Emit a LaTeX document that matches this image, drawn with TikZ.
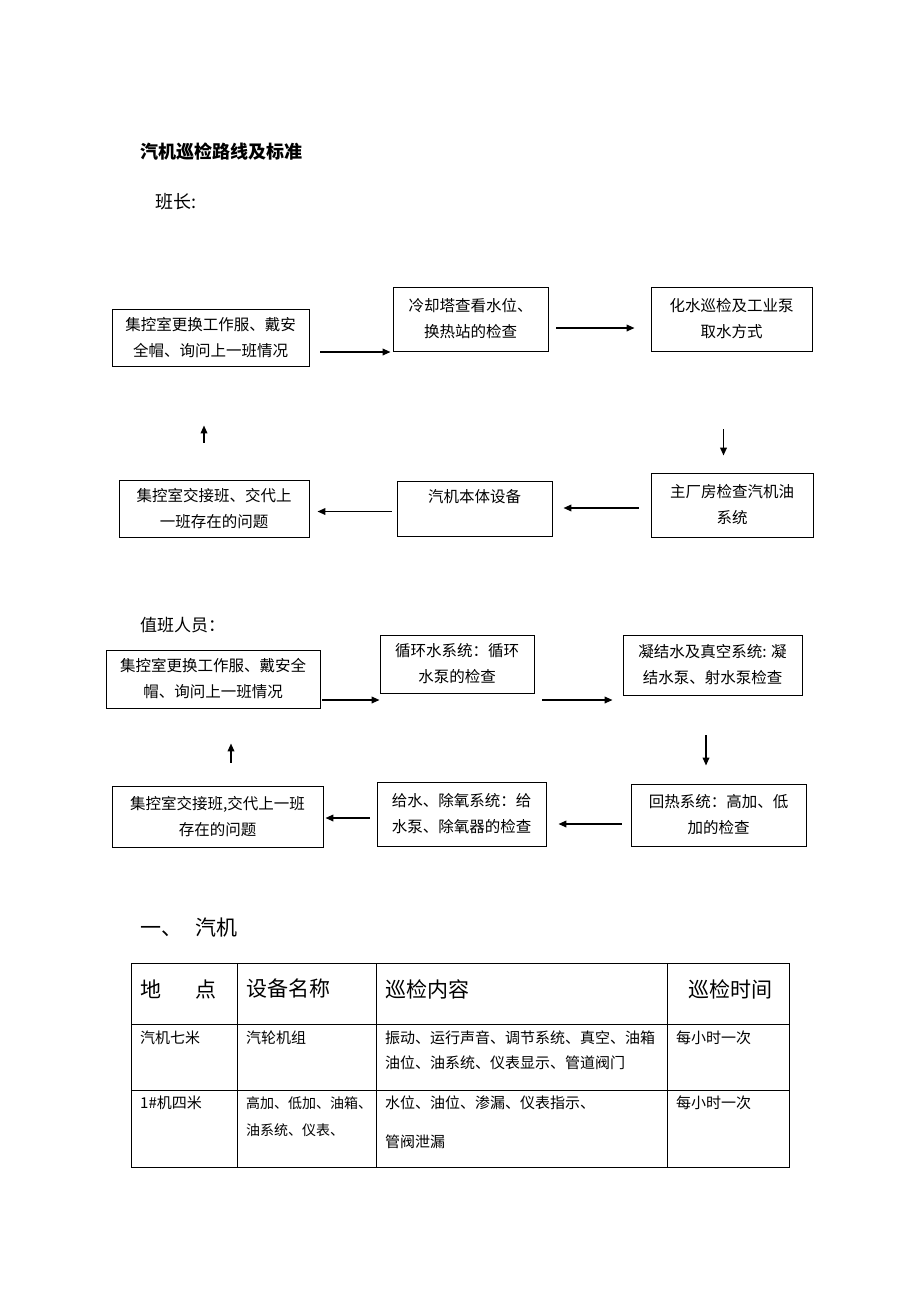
\documentclass[tikz,border=0pt]{standalone}
\usepackage{fontspec}
\setmainfont{Noto Sans CJK SC}
\usetikzlibrary{arrows.meta,calc}
\newcommand{\fs}[2]{\fontsize{#1}{#2}\selectfont}

\begin{document}
\begin{tikzpicture}[x=1pt,y=-1pt,
		box/.style={draw,line width=0.8pt,inner sep=0pt,align=center,font=\fs{15.5}{26}},
		arr/.style={line width=1.8pt,-{Triangle[length=8pt,width=6.5pt]}},
		txt/.style={inner sep=0pt,anchor=west},
		cell/.style={inner sep=0pt,anchor=north west,align=left,font=\fs{15}{25}}]
		\useasboundingbox (0,0) rectangle (920,1302);
		
		\node[txt,font=\bfseries\fs{18}{22}] (titel) at (140,152) {汽机巡检路线及标准};
		\node[txt,font=\fs{18}{22}] (banzhang) at (155,202) {班长:};
		
		% Ablauf Schichtleiter
		\node[box,minimum width=197pt,minimum height=57pt] (a1) at (210.5,337.5) {集控室更换工作服、戴安\\全帽、询问上一班情况};
		\node[box,minimum width=155pt,minimum height=64pt] (a2) at (470.5,319) {冷却塔查看水位、\\换热站的检查};
		\node[box,minimum width=161pt,minimum height=64pt] (a3) at (731.5,319) {化水巡检及工业泵\\取水方式};
		\node[box,minimum width=162pt,minimum height=64pt] (a4) at (732,505) {主厂房检查汽机油\\系统};
		\node[box,minimum width=155pt,minimum height=55pt] (a5) at (474.5,508.5) {汽机本体设备\\\mbox{}};
		\node[box,minimum width=190pt,minimum height=57pt] (a6) at (214,508.5) {集控室交接班、交代上\\一班存在的问题};
		
		\draw[arr] ($(a1.east)+(11,14.5)$) -- ($(a1.east -| a2.west)+(-2,14.5)$);
		\draw[arr] ($(a2.east)+(8,9)$) -- ($(a2.east -| a3.west)+(-16,9)$);
		\draw[arr] ($(a3.south)+(-8,78)$) -- ($(a3.south |- a4.north)+(-8,-17)$);
		\draw[arr] ($(a4.west)+(-12,3)$) -- ($(a4.west -| a5.east)+(11,3)$);
		\draw[arr] ($(a5.west)+(-5,3)$) -- ($(a5.west -| a6.east)+(8,3)$);
		\draw[arr] ($(a6.north)+(-10,-37)$) -- ($(a6.north |- a1.south)+(-10,59)$);
		
		\node[txt,font=\fs{17}{22}] (zhiban) at (140,625) {值班人员：};
		
		% Ablauf Schichtpersonal
		\node[box,minimum width=214pt,minimum height=58pt] (b1) at (213,679) {集控室更换工作服、戴安全\\帽、询问上一班情况};
		\node[box,minimum width=154pt,minimum height=58pt] (b2) at (457,664) {循环水系统：循环\\水泵的检查};
		\node[box,minimum width=179pt,minimum height=60pt] (b3) at (712.5,665) {凝结水及真空系统: 凝\\结水泵、射水泵检查};
		\node[box,minimum width=175pt,minimum height=62pt] (b4) at (718.5,815) {回热系统：高加、低\\加的检查};
		\node[box,minimum width=169pt,minimum height=64pt] (b5) at (461.5,814) {给水、除氧系统：给\\水泵、除氧器的检查};
		\node[box,minimum width=211pt,minimum height=61pt] (b6) at (217.5,816.5) {集控室交接班,交代上一班\\存在的问题};
		
		\draw[arr] ($(b1.east)+(2,21)$) -- ($(b1.east -| b2.west)+(0,21)$);
		\draw[arr] ($(b2.east)+(8,36)$) -- ($(b2.east -| b3.west)+(-10,36)$);
		\draw[arr] ($(b3.south)+(-6.5,40)$) -- ($(b3.south |- b4.north)+(-6.5,-18)$);
		\draw[arr] ($(b4.west)+(-9,9)$) -- ($(b4.west -| b5.east)+(12,9)$);
		\draw[arr] ($(b5.west)+(-7,4)$) -- ($(b5.west -| b6.east)+(2,4)$);
		\draw[arr] ($(b6.north)+(13.5,-23)$) -- ($(b6.north |- b1.south)+(13.5,35)$);
		
		\node[txt,font=\fs{21}{25}] (qiji) at (140,928) {一、\hspace{13pt}汽机};
		
		% Tabelle
		\draw[line width=0.8pt] (131,963) rectangle (789,1167);
		\foreach \x in {237,376,667} \draw[line width=0.8pt] (\x,963) -- (\x,1167);
		\foreach \y in {1024,1090} \draw[line width=0.8pt] (131,\y) -- (789,\y);
		
		\node[txt,font=\fs{21}{25}] (h1) at (140,989) {地\hspace{34pt}点};
		\node[txt,font=\fs{21}{25}] (h2) at (246,989) {设备名称};
		\node[txt,font=\fs{21}{25}] (h3) at (385,989) {巡检内容};
		\node[txt,font=\fs{21}{25}] (h4) at (688,989) {巡检时间};
		
		\node[cell] (r1c1) at (140,1030.5) {汽机七米};
		\node[cell] (r1c2) at (246,1030.5) {汽轮机组};
		\node[cell] (r1c3) at (385,1030.5) {振动、运行声音、调节系统、真空、油箱\\油位、油系统、仪表显示、管道阀门};
		\node[cell] (r1c4) at (676,1030.5) {每小时一次};
		\node[cell] (r2c1) at (140,1095.5) {1\#机四米};
		\node[cell,font=\fs{14}{27}] (r2c2) at (246,1096) {高加、低加、油箱、\\油系统、仪表、};
		\node[cell] (r2c3) at (385,1095.5) {水位、油位、渗漏、仪表指示、\\[14pt]管阀泄漏};
		\node[cell] (r2c4) at (676,1095.5) {每小时一次};
	\end{tikzpicture}
\end{document}
